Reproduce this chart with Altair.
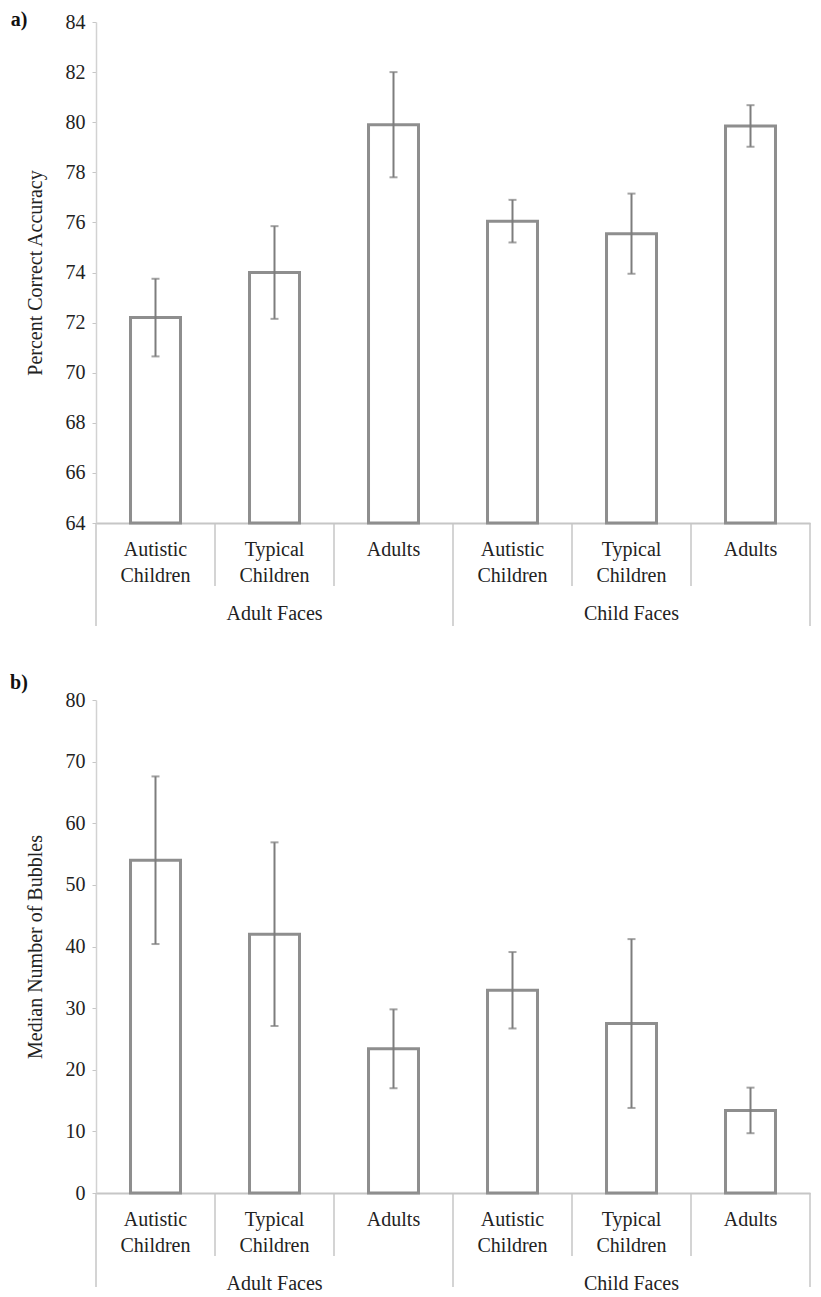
import altair as alt
import pandas as pd

# ---- data ----
GROUPS = ["Adult Faces", "Adult Faces", "Adult Faces", "Child Faces", "Child Faces", "Child Faces"]
CATEGORIES = ["Autistic Children", "Typical Children", "Adults",
              "Autistic Children", "Typical Children", "Adults"]

ACC_MEAN = [72.2, 74.0, 79.9, 76.05, 75.55, 79.85]
ACC_ERR = [1.55, 1.85, 2.1, 0.85, 1.6, 0.83]
ACC_TICKS = [64, 66, 68, 70, 72, 74, 76, 78, 80, 82, 84]

BUB_MEAN = [54.0, 42.0, 23.4, 32.9, 27.5, 13.4]
BUB_ERR = [13.6, 14.9, 6.4, 6.2, 13.7, 3.7]
BUB_TICKS = [0, 10, 20, 30, 40, 50, 60, 70, 80]

FONT = "Liberation Serif"
FS = 20
TEXT = "#222222"
BAR = "#8e8e8e"
ERRC = "#7d7d7d"
AXC = "#c6c6c6"

KEYS = [f"{g}|{c}" for g, c in zip(GROUPS, CATEGORIES)]
W = 714


def panel(means, errs, ticks, ytitle, tag, H, tag_y, sep_len):
    ymin, ymax = ticks[0], ticks[-1]
    df = pd.DataFrame({
        "key": KEYS, "group": GROUPS, "cat": CATEGORIES, "mean": means,
        "lo": [m - e for m, e in zip(means, errs)],
        "hi": [m + e for m, e in zip(means, errs)],
    })
    xs = alt.Scale(domain=KEYS, paddingInner=0, paddingOuter=0)
    xax = alt.Axis(labels=False, ticks=False, title=None, domainColor=AXC, domainWidth=2)
    ys = alt.Scale(domain=[ymin, ymax], zero=False, nice=False)
    yax = alt.Axis(values=ticks, title=ytitle, grid=False, labelFont=FONT, labelFontSize=FS,
                   labelColor=TEXT, tickColor=AXC, tickSize=4, labelPadding=7,
                   domainColor="#d2d2d2", domainWidth=1.5, titleFont=FONT, titleFontSize=FS,
                   titleFontWeight="normal", titleColor=TEXT, titlePadding=20)

    def X(**kw):
        return alt.X("key:N", scale=xs, axis=xax, **kw)

    def Y(field):
        return alt.Y(field, scale=ys, axis=yax)

    bars = alt.Chart(df).mark_bar(fill="white", stroke=BAR, strokeWidth=3,
                                  width={"band": 0.42}).encode(
        x=X(), y=Y("mean:Q"), y2=alt.datum(ymin))
    err = alt.Chart(df).mark_rule(color=ERRC, strokeWidth=2).encode(
        x=X(), y=Y("lo:Q"), y2="hi:Q")
    caps = alt.Chart(df).transform_fold(["lo", "hi"], as_=["end", "val"]).mark_tick(
        color=ERRC, thickness=2, size=8).encode(x=X(), y=Y("val:Q"))

    labels = alt.Chart(df).mark_text(font=FONT, fontSize=FS, color=TEXT, baseline="top",
                                     lineBreak=" ", lineHeight=26).encode(
        x=X(), y=alt.value(H + 17), text="cat:N")

    gdf = pd.DataFrame({"key": [KEYS[1], KEYS[4]], "group": [GROUPS[1], GROUPS[4]]})
    glabels = alt.Chart(gdf).mark_text(font=FONT, fontSize=FS, color=TEXT, baseline="middle").encode(
        x=X(), y=alt.value(H + 91), text="group:N")

    short_df = pd.DataFrame({"key": [KEYS[1], KEYS[2], KEYS[4], KEYS[5]]})
    short = alt.Chart(short_df).mark_rule(color=AXC, strokeWidth=1.5).encode(
        x=X(bandPosition=0), y=alt.value(H), y2=alt.value(H + 63))
    long_df = pd.DataFrame({"key": [KEYS[0], KEYS[3]]})
    long_ = alt.Chart(long_df).mark_rule(color=AXC, strokeWidth=1.5).encode(
        x=X(bandPosition=0), y=alt.value(H), y2=alt.value(H + sep_len))
    end_df = pd.DataFrame({"key": [KEYS[5]]})
    end = alt.Chart(end_df).mark_rule(color=AXC, strokeWidth=1.5).encode(
        x=X(bandPosition=1), y=alt.value(H), y2=alt.value(H + sep_len))

    tdf = pd.DataFrame({"t": [tag]})
    tagm = alt.Chart(tdf).mark_text(font=FONT, fontSize=FS, fontWeight="bold", color="#111111",
                                    align="center", baseline="middle").encode(
        x=alt.value(-77), y=alt.value(tag_y), text="t:N")

    return alt.layer(bars, err, caps, short, long_, end, labels, glabels, tagm).properties(
        width=W, height=H)


pa = panel(ACC_MEAN, ACC_ERR, ACC_TICKS, "Percent Correct Accuracy", "a)", 501, -2, 103)
pb = panel(BUB_MEAN, BUB_ERR, BUB_TICKS, "Median Number of Bubbles", "b)", 493, -17, 94)

chart = alt.vconcat(pa, pb, spacing=46).configure_view(strokeWidth=0).properties(
    padding={"left": 2, "top": 2, "right": 0, "bottom": 0})

chart.save("out.html", embed_options={"renderer": "svg", "actions": False})
